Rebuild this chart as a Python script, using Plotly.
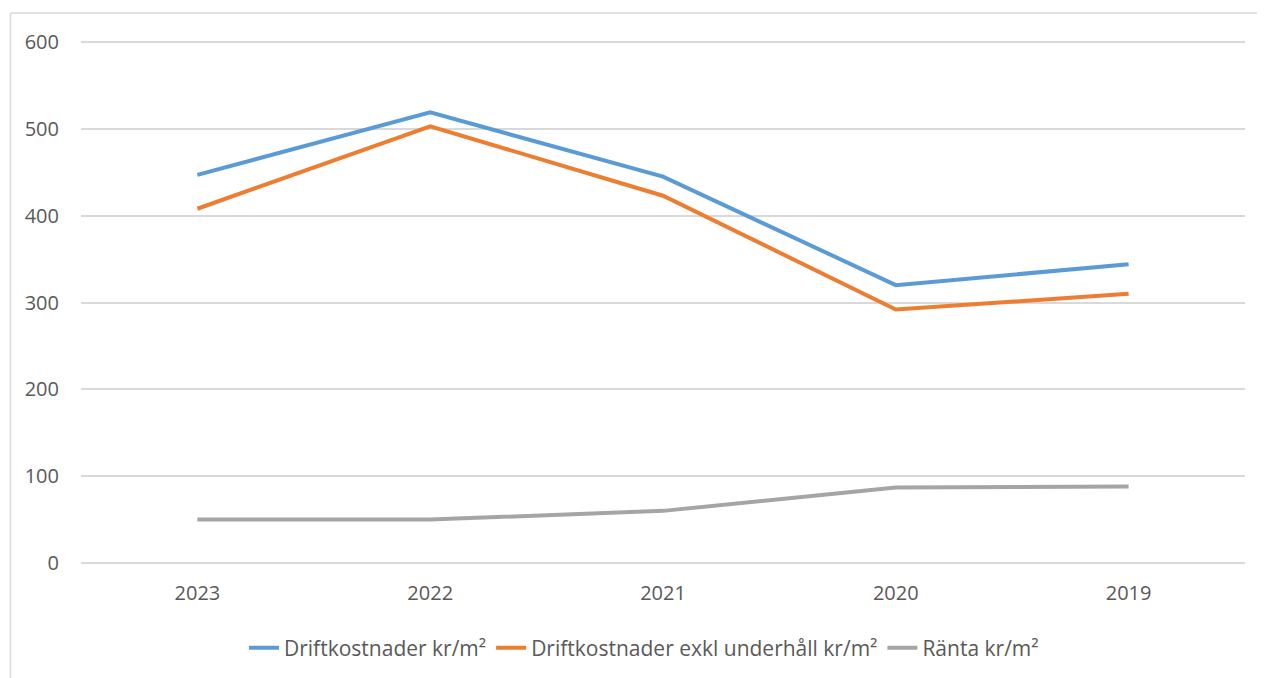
import plotly.graph_objects as go

years = ["2023", "2022", "2021", "2020", "2019"]
drift = [447, 519, 445, 320, 344]
drift_exkl = [408, 503, 423, 292, 310]
ranta = [50, 50, 60, 87, 88]
y_ticks = [0, 100, 200, 300, 400, 500, 600]

series_names = ["Driftkostnader kr/m²", "Driftkostnader exkl underhåll kr/m²", "Ränta kr/m²"]
colors = ["#5B9BD5", "#ED7D31", "#A5A5A5"]

fig = go.Figure()
for name, vals, col in zip(series_names, [drift, drift_exkl, ranta], colors):
    fig.add_trace(go.Scatter(x=years, y=vals, mode="lines", name=name,
                             line=dict(color=col, width=4)))

# page has an 8px body margin; figure pixel = page pixel - 8
OFF = 8
W, H = 1265 - OFF, 678 - OFF
L, R, T, B = 81 - OFF, 1265 - 1245, 41 - OFF, 678 - 564
pw, ph = W - L - R, H - T - B

def px(x):
    return (x - OFF - L) / pw

def py(y):
    return (H - B - (y - OFF)) / ph

FONT = "Open Sans, Liberation Sans, sans-serif"
TXT = "#595959"

fig.update_layout(
    width=W, height=H,
    margin=dict(l=L, r=R, t=T, b=B, autoexpand=False),
    paper_bgcolor="white", plot_bgcolor="white",
    font=dict(family=FONT, size=19, color=TXT),
    xaxis=dict(type="category", range=[-0.5, 4.5], showgrid=False, zeroline=False,
               showline=False, ticks="outside", ticklen=11, tickcolor="rgba(0,0,0,0)",
               tickfont=dict(size=20, color=TXT)),
    yaxis=dict(range=[-1.2, 601.2], tickvals=y_ticks, showgrid=True, gridcolor="#D9D9D9",
               gridwidth=1.5, zeroline=False, showline=False, ticks="outside",
               ticklen=17, tickcolor="rgba(0,0,0,0)",
               tickfont=dict(size=20, color=TXT)),
    showlegend=True,
    legend=dict(orientation="h", x=px(644), xanchor="center", y=py(648), yanchor="middle",
                font=dict(size=21, color=TXT), tracegroupgap=0),
    shapes=[
        dict(type="line", xref="paper", yref="paper", x0=px(10.5), x1=px(1265), y0=py(13), y1=py(13),
             line=dict(color="#D9D9D9", width=1.5)),
        dict(type="line", xref="paper", yref="paper", x0=px(10.5), x1=px(10.5), y0=py(13), y1=py(678),
             line=dict(color="#D9D9D9", width=1.5)),
    ],
)

fig.write_html("out.html")
